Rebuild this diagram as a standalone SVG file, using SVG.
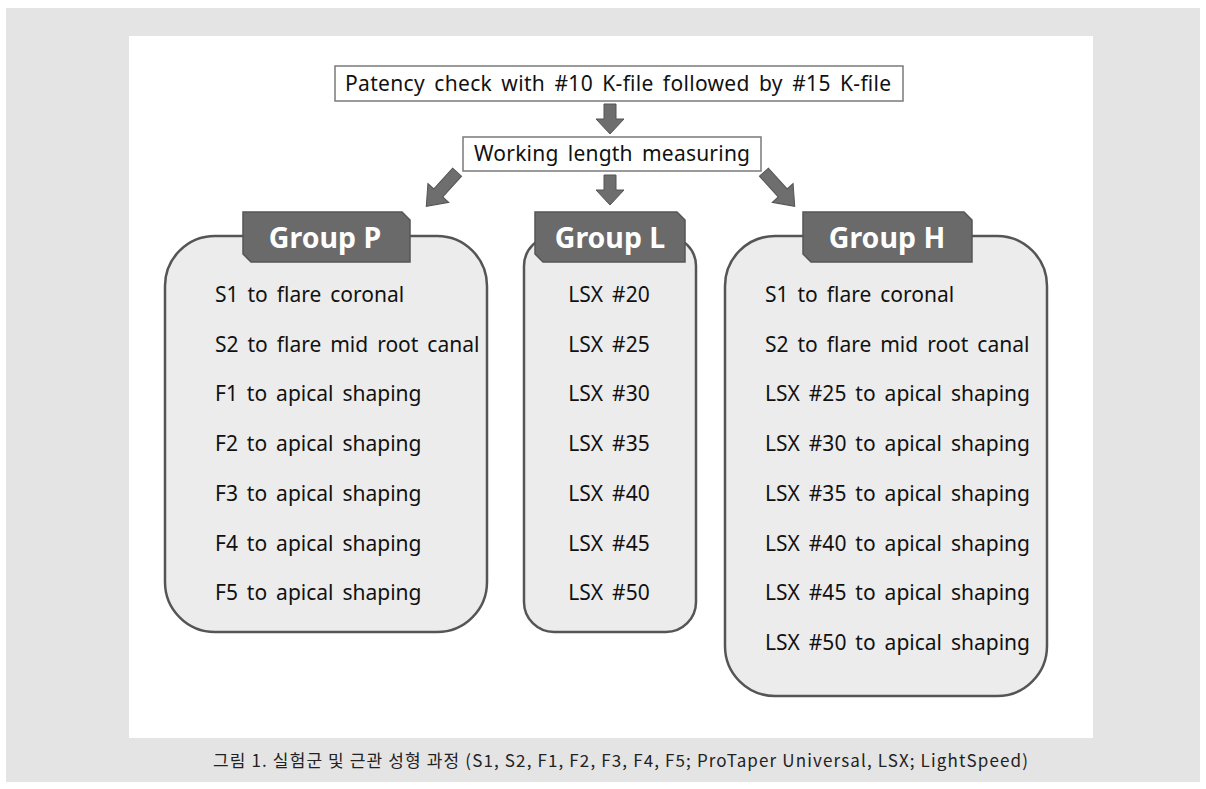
<svg xmlns="http://www.w3.org/2000/svg" width="1206" height="789" viewBox="0 0 1206 789">
<defs>
<style>
.box{fill:#fff;stroke:#7a7a7a;stroke-width:1.5}
.t{font-family:"Noto Sans","Open Sans",sans-serif;font-size:21px;word-spacing:3.5px;fill:#111}
.c{text-anchor:middle}
.panel{fill:#ececec;stroke:#555;stroke-width:2.5}
.tab{fill:#6a6a6a;stroke:#555;stroke-width:1.5}
.tt{font-family:"Noto Sans","Open Sans",sans-serif;font-size:28.5px;font-weight:bold;fill:#fff;text-anchor:middle}
.arr{fill:#6e6e6e;stroke:#555;stroke-width:1}
.cap{font-family:"Noto Sans CJK KR","Noto Sans",sans-serif;font-size:17px;fill:#222}
</style>
<path id="dn" d="M-6,-15 H6 V0 H14 L0,15 L-14,0 H-6 Z"/>
<path id="dg" d="M-6,-24 H6 V4 H14 L0,22 L-14,4 H-6 Z"/>
</defs>
<rect x="6" y="8" width="1194" height="774" fill="#e4e4e4"/>
<rect x="129" y="36" width="964" height="702" fill="#fff"/>

<g id="patency">
<rect class="box" x="335" y="66" width="568" height="35"/>
<text class="t" x="345" y="91" textLength="546" lengthAdjust="spacing">Patency check with #10 K-file followed by #15 K-file</text>
</g>
<g id="working">
<rect class="box" x="463" y="137" width="298" height="34"/>
<text class="t" x="474" y="161" textLength="276" lengthAdjust="spacing">Working length measuring</text>
</g>

<g id="connectors">
<use href="#dn" class="arr" transform="translate(610,119)"/>
<use href="#dn" class="arr" transform="translate(610,190)"/>
<use href="#dg" class="arr" transform="translate(441,190) rotate(42)"/>
<use href="#dg" class="arr" transform="translate(780,190) rotate(-42)"/>
</g>

<g id="groupP">
<rect class="panel" x="165" y="236" width="322" height="396" rx="50"/>
<path class="tab" d="M243,212 H402 L410,220 V262 H251 L243,254 Z"/>
<text class="tt" x="325" y="248">Group P</text>
<text class="t" x="215" y="302">S1 to flare coronal</text>
<text class="t" x="215" y="351.7">S2 to flare mid root canal</text>
<text class="t" x="215" y="401.4">F1 to apical shaping</text>
<text class="t" x="215" y="451.1">F2 to apical shaping</text>
<text class="t" x="215" y="500.8">F3 to apical shaping</text>
<text class="t" x="215" y="550.5">F4 to apical shaping</text>
<text class="t" x="215" y="600.2">F5 to apical shaping</text>
</g>

<g id="groupL">
<rect class="panel" x="524" y="236" width="172" height="396" rx="30"/>
<path class="tab" d="M535,212 H677 L685,220 V262 H543 L535,254 Z"/>
<text class="tt" x="610" y="248">Group L</text>
<text class="t c" x="609" y="302">LSX #20</text>
<text class="t c" x="609" y="351.7">LSX #25</text>
<text class="t c" x="609" y="401.4">LSX #30</text>
<text class="t c" x="609" y="451.1">LSX #35</text>
<text class="t c" x="609" y="500.8">LSX #40</text>
<text class="t c" x="609" y="550.5">LSX #45</text>
<text class="t c" x="609" y="600.2">LSX #50</text>
</g>

<g id="groupH">
<rect class="panel" x="725" y="236" width="322" height="460" rx="50"/>
<path class="tab" d="M803,212 H964 L972,220 V262 H811 L803,254 Z"/>
<text class="tt" x="887" y="248">Group H</text>
<text class="t" x="765" y="302">S1 to flare coronal</text>
<text class="t" x="765" y="351.7">S2 to flare mid root canal</text>
<text class="t" x="765" y="401.4">LSX #25 to apical shaping</text>
<text class="t" x="765" y="451.1">LSX #30 to apical shaping</text>
<text class="t" x="765" y="500.8">LSX #35 to apical shaping</text>
<text class="t" x="765" y="550.5">LSX #40 to apical shaping</text>
<text class="t" x="765" y="600.2">LSX #45 to apical shaping</text>
<text class="t" x="765" y="650">LSX #50 to apical shaping</text>
</g>

<text class="cap" x="213" y="767" textLength="815" lengthAdjust="spacing">그림 1. 실험군 및 근관 성형 과정 (S1, S2, F1, F2, F3, F4, F5; ProTaper Universal, LSX; LightSpeed)</text>
</svg>
